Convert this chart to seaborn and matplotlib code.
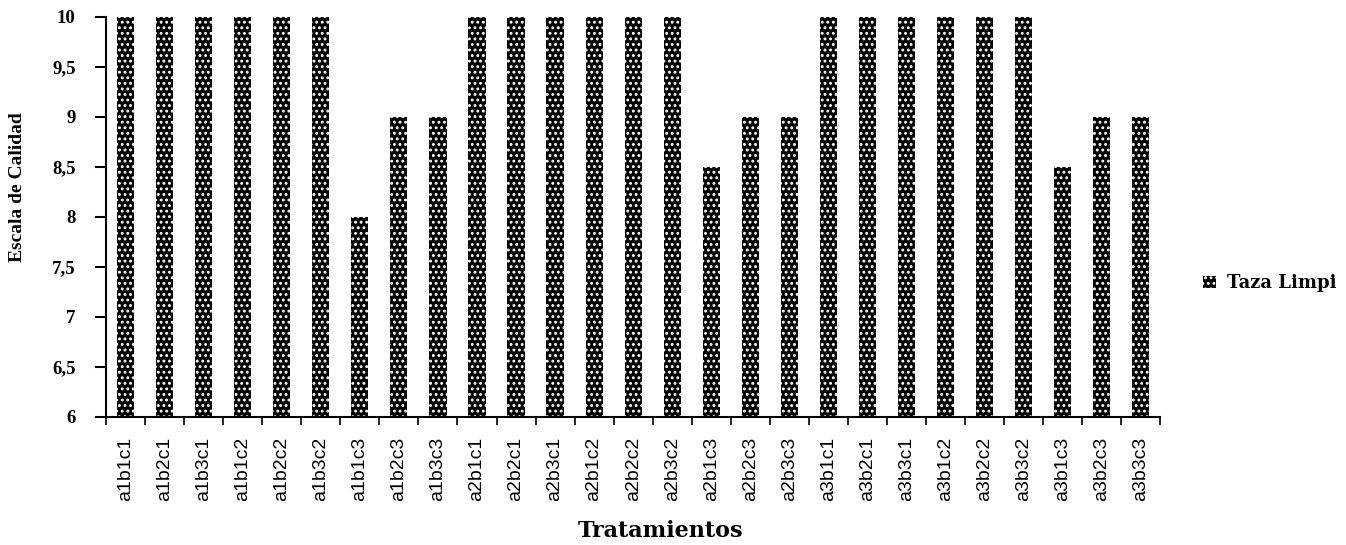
import matplotlib
matplotlib.use("Agg")
import matplotlib.pyplot as plt
import seaborn as sns
import pandas as pd
import numpy as np
from matplotlib.ticker import FixedLocator, FuncFormatter
from matplotlib.patches import Patch

tratamientos = ["a1b1c1", "a1b2c1", "a1b3c1", "a1b1c2", "a1b2c2", "a1b3c2", "a1b1c3", "a1b2c3", "a1b3c3",
                "a2b1c1", "a2b2c1", "a2b3c1", "a2b1c2", "a2b2c2", "a2b3c2", "a2b1c3", "a2b2c3", "a2b3c3",
                "a3b1c1", "a3b2c1", "a3b3c1", "a3b1c2", "a3b2c2", "a3b3c2", "a3b1c3", "a3b2c3", "a3b3c3"]
taza_limpia = [10, 10, 10, 10, 10, 10, 8, 9, 9,
               10, 10, 10, 10, 10, 10, 8.5, 9, 9,
               10, 10, 10, 10, 10, 10, 8.5, 9, 9]
serie = "Taza Limpi"
y_ticks = [6, 6.5, 7, 7.5, 8, 8.5, 9, 9.5, 10]

df = pd.DataFrame({"Tratamientos": tratamientos, "valor": taza_limpia, "serie": serie})

sns.set_style("white")
plt.rcParams["font.family"] = ["Liberation Serif", "DejaVu Serif"]
plt.rcParams["hatch.linewidth"] = 1.3
plt.rcParams["text.color"] = "black"
plt.rcParams["axes.labelcolor"] = "black"
plt.rcParams["xtick.color"] = "black"
plt.rcParams["ytick.color"] = "black"

fig = plt.figure(figsize=(13.46, 5.45), dpi=100)
ax = fig.add_axes([0.0788, 0.235, 0.862 - 0.0788, 0.734])

sns.barplot(data=df, x="Tratamientos", y="valor", hue="serie", palette=["black"],
            width=0.44, ax=ax, legend=False)

for p in ax.patches:
    p.set_facecolor("black")
    p.set_edgecolor("white")
    p.set_linewidth(0)
    p.set_hatch("...")

ax.set_ylim(6, 10)
ax.set_xlim(-0.5, len(tratamientos) - 0.5)
ax.set_yticks(y_ticks)
ax.yaxis.set_major_formatter(FuncFormatter(lambda v, _: f"{v:g}".replace(".", ",")))
for lab in ax.get_yticklabels():
    lab.set_fontweight("bold")
ax.tick_params(axis="y", which="major", direction="out", length=8, width=1.5, color="black",
               labelcolor="black", labelsize=13.5, pad=14, left=True)

ax.set_xticks(range(len(tratamientos)))
ax.set_xticklabels(tratamientos, rotation=90, fontsize=14,
                   family=["Liberation Sans Narrow", "DejaVu Sans Condensed", "Liberation Sans"])
ax.xaxis.set_minor_locator(FixedLocator(np.arange(-0.5, len(tratamientos), 1.0)))
ax.tick_params(axis="x", which="major", length=0, pad=14, labelcolor="black")
ax.tick_params(axis="x", which="minor", direction="out", length=6, width=1.2, color="black", bottom=True)

for s in ["top", "right"]:
    ax.spines[s].set_visible(False)
for s in ["left", "bottom"]:
    ax.spines[s].set_color("black")
    ax.spines[s].set_linewidth(1.5)

ax.set_ylabel("Escala de Calidad", fontsize=14, fontweight="bold", va="center", color="black")
ax.yaxis.set_label_coords(-0.084, 0.575)
ax.set_xlabel("Tratamientos", fontsize=16, fontweight="bold", family=["DejaVu Serif"], va="center",
              color="black")
ax.xaxis.set_label_coords(0.526, -0.285)

h = Patch(facecolor="black", edgecolor="white", linewidth=0, hatch="...", label=serie)
leg = fig.legend(handles=[h], loc="center left", bbox_to_anchor=(0.882, 0.48), frameon=False,
                 prop={"family": "DejaVu Serif", "size": 13, "weight": "bold"},
                 handlelength=0.7, handleheight=0.7, handletextpad=0.6, labelcolor="black")

fig.savefig("out.png", dpi=100)
